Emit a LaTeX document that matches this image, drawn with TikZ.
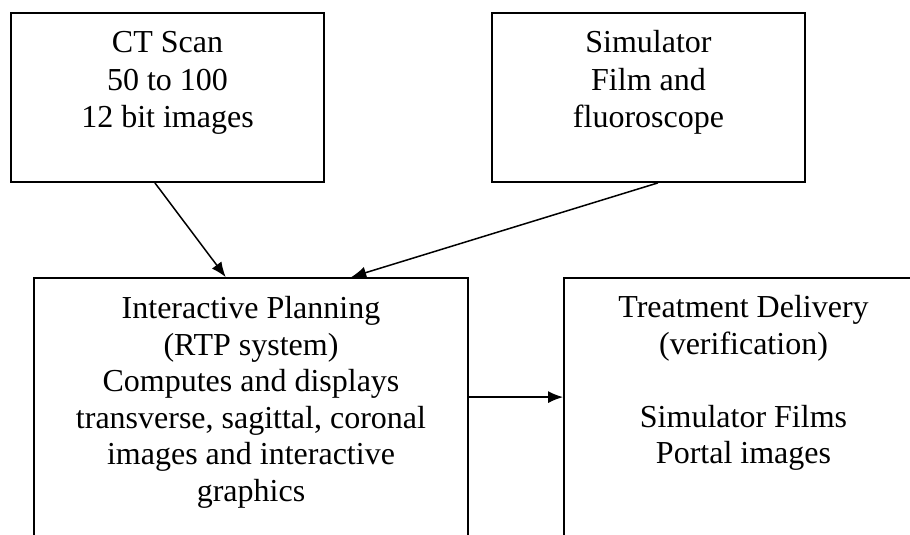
\documentclass[tikz,border=0pt]{standalone}
\usepackage{fontspec}
\setmainfont{Liberation Serif}
\usetikzlibrary{arrows.meta,calc}
\tikzset{
  frame/.style={draw, line width=1.8pt, inner sep=0pt},
  boxtext/.style={anchor=north, inner sep=0pt, align=center, font=\fontsize{32}{37.5}\selectfont},
  lowtext/.style={boxtext, font=\fontsize{32}{36.5}\selectfont}
}
\begin{document}
\begin{tikzpicture}[x=1pt, y=1pt, >={Latex[length=15pt,width=12pt]}, line width=1.5pt]
\useasboundingbox (0,0) rectangle (910,535);
\fill[white] (0,0) rectangle (910,535);
\clip (0,0) rectangle (910,535);

% the four boxes
\node[frame, minimum width=313pt, minimum height=169pt] (ct) at (167.5,437.5) {};
\node[frame, minimum width=313pt, minimum height=169pt] (sim) at (648.5,437.5) {};
\node[frame, minimum width=434pt, minimum height=300pt] (plan) at (251,107) {};
\node[frame, minimum width=359pt, minimum height=300pt] (deliv) at (743.5,107) {};

% texts
\node[boxtext] (cttext) at ([yshift=-13.75pt]ct.north) {\strut CT Scan\\50 to 100\\12 bit images};
\node[boxtext] (simtext) at ([yshift=-13.75pt]sim.north) {\strut Simulator\\Film and\\fluoroscope};
\node[lowtext] (plantext) at ([yshift=-15.5pt]plan.north)
  {\strut Interactive Planning\\(RTP system)\\Computes and displays\\transverse, sagittal, coronal\\images and interactive\\graphics};
\node[lowtext] (delivtext) at ([yshift=-14.5pt]deliv.north)
  {\strut Treatment Delivery\\(verification)\\[36.5pt]Simulator Films\\Portal images};

% arrows
\draw[->] ($(ct.south west)!.46!(ct.south east)$) -- ($(plan.north west)!.442!(plan.north east)$);
\draw[->] ($(sim.south west)!.53!(sim.south east)$) -- ($(plan.north west)!.73!(plan.north east)$);
\draw[->] ([yshift=-120pt]plan.north east) -- ([yshift=-120pt]deliv.north west);
\end{tikzpicture}
\end{document}
